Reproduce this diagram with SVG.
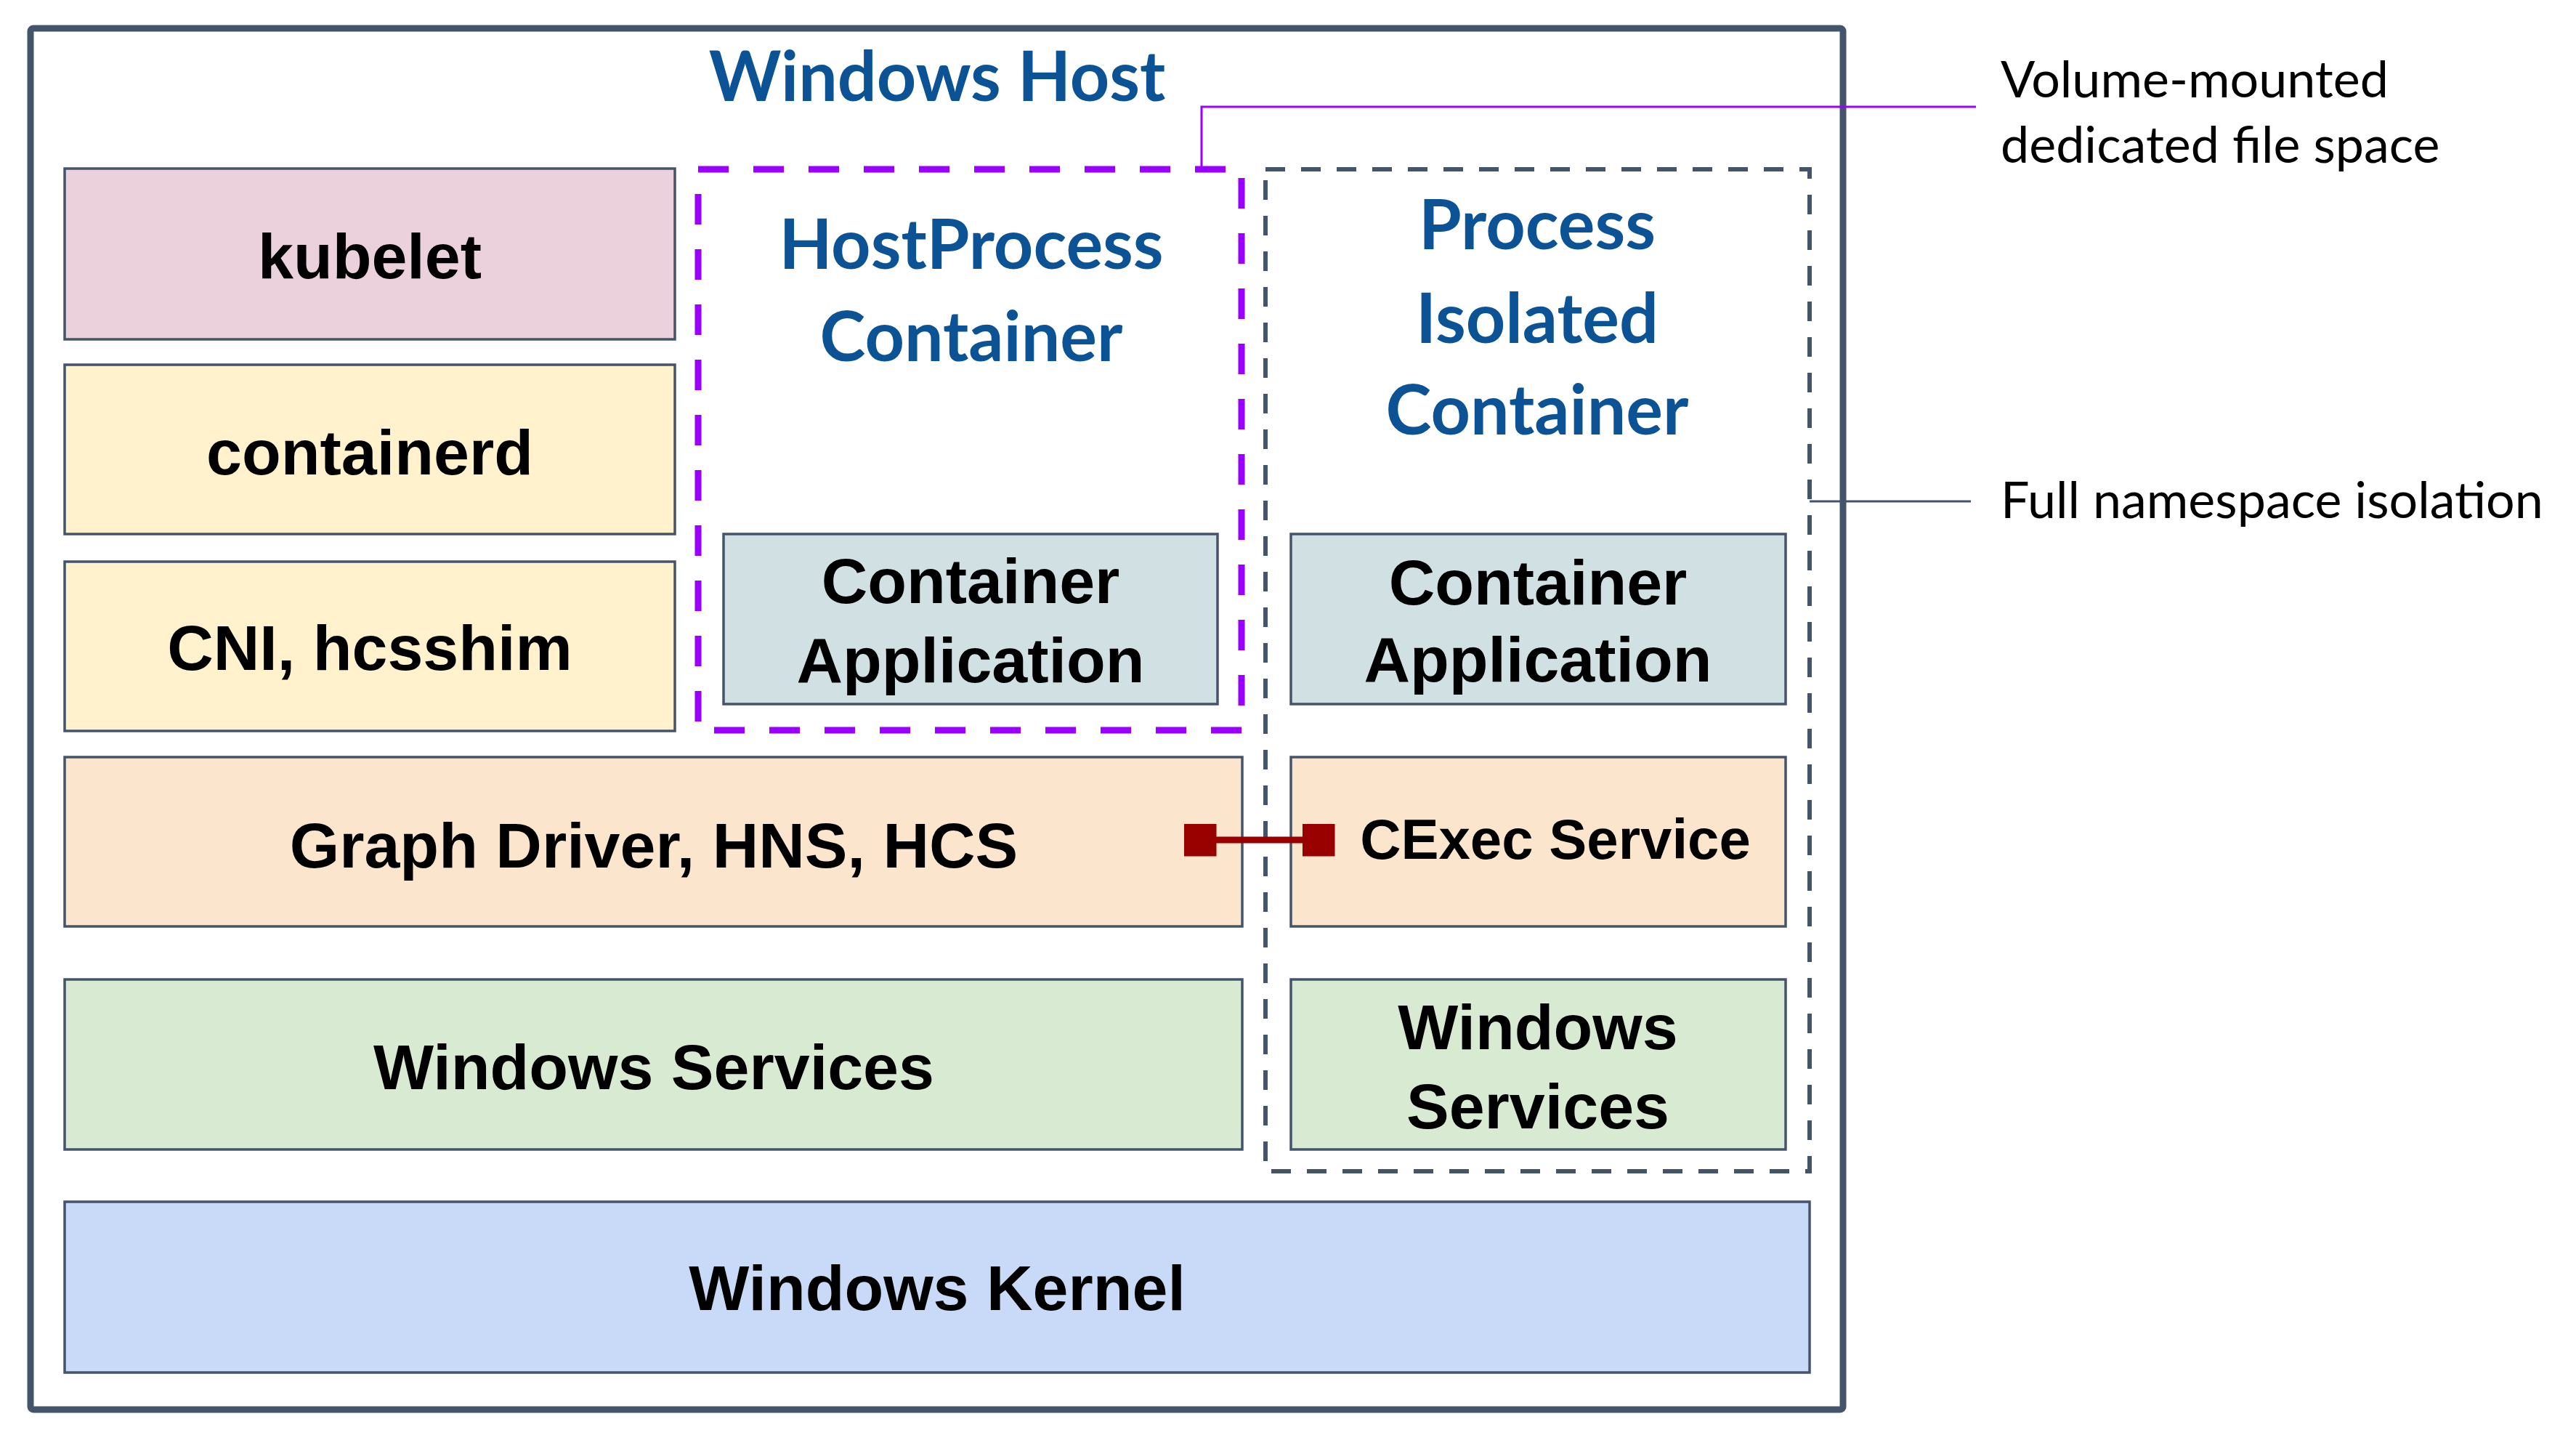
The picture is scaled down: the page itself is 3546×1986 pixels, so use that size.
<svg xmlns="http://www.w3.org/2000/svg" width="3546" height="1986" viewBox="0 0 3546 1986">
<style>
.box{stroke:#44546A;stroke-width:3.5}
.lbl{font-family:"Liberation Sans",Arial,sans-serif;font-weight:bold;font-size:88px;fill:#000;text-anchor:middle}
.ttl{font-family:Lato,"Open Sans",sans-serif;font-weight:bold;font-size:95px;fill:#0B5394;text-anchor:middle}
.note{font-family:Lato,"Open Sans",sans-serif;font-size:70px;fill:#000}
</style>
<defs>
<marker id="sq" viewBox="0 0 10 10" refX="5" refY="5" markerWidth="45" markerHeight="45" markerUnits="userSpaceOnUse" orient="auto">
<rect x="0" y="0" width="10" height="10" fill="#990000"/>
</marker>
</defs>
<rect width="3546" height="1986" fill="#fff"/>
<g id="windows-host">
<rect x="42" y="39" width="2495" height="1901" rx="4" fill="#fff" stroke="#44546A" stroke-width="9"/>
<text class="ttl" x="1290" y="139">Windows Host</text>
</g>
<g id="hostprocess-container">
<rect x="961" y="233" width="748" height="772" fill="none" stroke="#9900FF" stroke-width="9" stroke-dasharray="42 34" stroke-dashoffset="0"/>
<text class="ttl" x="1337" y="370">HostProcess</text>
<text class="ttl" x="1337" y="497">Container</text>
</g>
<g id="process-isolated-container">
<rect x="1742" y="233" width="749" height="1379" fill="none" stroke="#44546A" stroke-width="6" stroke-dasharray="27 22"/>
<text class="ttl" x="2116" y="343">Process</text>
<text class="ttl" x="2116" y="472">Isolated</text>
<text class="ttl" x="2116" y="598">Container</text>
</g>
<g id="kubelet">
<rect class="box" x="89" y="232" width="840" height="235" fill="#EAD1DC"/>
<text class="lbl" x="509" y="383">kubelet</text>
</g>
<g id="containerd">
<rect class="box" x="89" y="502" width="840" height="233" fill="#FFF2CC"/>
<text class="lbl" x="509" y="653">containerd</text>
</g>
<g id="cni-hcsshim">
<rect class="box" x="89" y="773" width="840" height="233" fill="#FFF2CC"/>
<text class="lbl" x="509" y="922">CNI, hcsshim</text>
</g>
<g id="host-container-app">
<rect class="box" x="996" y="735" width="680" height="234" fill="#D0E0E3"/>
<text class="lbl" x="1336" y="830">Container</text>
<text class="lbl" x="1336" y="939">Application</text>
</g>
<g id="graph-driver">
<rect class="box" x="89" y="1042" width="1621" height="233" fill="#FCE5CD"/>
<text class="lbl" x="900" y="1194">Graph Driver, HNS, HCS</text>
</g>
<g id="windows-services">
<rect class="box" x="89" y="1348" width="1621" height="234" fill="#D9EAD3"/>
<text class="lbl" x="900" y="1499">Windows Services</text>
</g>
<g id="windows-kernel">
<rect class="box" x="89" y="1654" width="2402" height="235" fill="#C9DAF8"/>
<text class="lbl" x="1290" y="1803">Windows Kernel</text>
</g>
<g id="iso-container-app">
<rect class="box" x="1777" y="735" width="681" height="234" fill="#D0E0E3"/>
<text class="lbl" x="2117" y="832">Container</text>
<text class="lbl" x="2117" y="938">Application</text>
</g>
<g id="cexec-service">
<rect class="box" x="1777" y="1042" width="681" height="233" fill="#FCE5CD"/>
<text class="lbl" x="2141" y="1182" style="font-size:78px">CExec Service</text>
</g>
<g id="iso-windows-services">
<rect class="box" x="1777" y="1348" width="681" height="234" fill="#D9EAD3"/>
<text class="lbl" x="2117" y="1444">Windows</text>
<text class="lbl" x="2117" y="1553">Services</text>
</g>
<g id="connectors">
<path d="M1652,1156 H1815" stroke="#990000" stroke-width="9" fill="none" marker-start="url(#sq)" marker-end="url(#sq)"/>
<polyline points="1654,233 1654,147 2720,147" fill="none" stroke="#9900FF" stroke-width="3"/>
<line x1="2491" y1="690" x2="2713" y2="690" stroke="#44546A" stroke-width="3"/>
</g>
<g id="annotations">
<text class="note" x="2754" y="134">Volume-mounted</text>
<text class="note" x="2754" y="224">dedicated file space</text>
<text class="note" x="2754" y="713">Full namespace isolation</text>
</g>
</svg>
